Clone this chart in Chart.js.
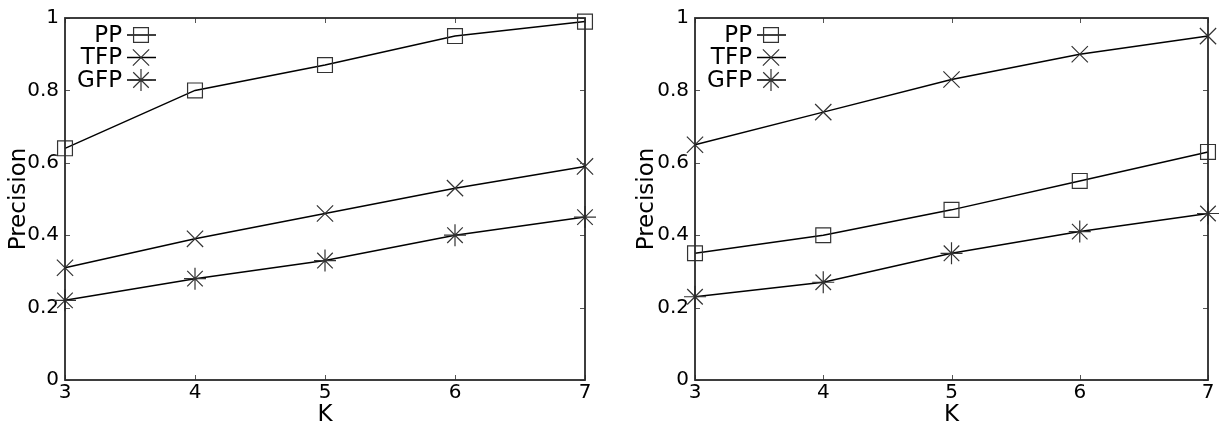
<!DOCTYPE html>
<html>
<head>
<meta charset="utf-8">
<script src="https://cdn.jsdelivr.net/npm/chart.js@4.4.1/dist/chart.umd.min.js"></script>
<style>
  html, body { margin: 0; padding: 0; background: #fff; }
  #wrap { position: relative; width: 1224px; height: 432px; }
  .c { position: absolute; top: 0; width: 612px; height: 432px; }
</style>
</head>
<body>
<div id="wrap">
  <div class="c" style="left:0"><canvas id="c1" width="612" height="432"></canvas></div>
  <div class="c" style="left:612px"><canvas id="c2" width="612" height="432"></canvas></div>
</div>
<script>
const kValues = ['3', '4', '5', '6', '7'];
const seriesNames = ['PP', 'TFP', 'GFP'];
const pointStyles = ['rect', 'crossRot', 'star'];
const yTicks = [0, 0.2, 0.4, 0.6, 0.8, 1];
const yTickLabels = ['0', '0.2', '0.4', '0.6', '0.8', '1'];

const leftPP  = [0.64, 0.80, 0.87, 0.95, 0.99];
const leftTFP = [0.31, 0.39, 0.46, 0.53, 0.59];
const leftGFP = [0.22, 0.28, 0.33, 0.40, 0.45];

const rightPP  = [0.35, 0.40, 0.47, 0.55, 0.63];
const rightTFP = [0.65, 0.74, 0.83, 0.90, 0.95];
const rightGFP = [0.23, 0.27, 0.35, 0.41, 0.46];

const FONT = "'DejaVu Sans', 'Bitstream Vera Sans', sans-serif";
const radii = [10.5, 11.5, 11];

const framePlugin = {
  id: 'frame',
  afterDatasetsDraw(chart) {
    const {ctx, chartArea: a, scales} = chart;
    ctx.save();
    // inward ticks
    ctx.strokeStyle = '#555';
    ctx.lineWidth = 1;
    const tl = 5;
    ctx.beginPath();
    scales.x.ticks.forEach((t, i) => {
      const px = Math.round(scales.x.getPixelForTick(i)) + 0.5;
      ctx.moveTo(px, a.bottom); ctx.lineTo(px, a.bottom - tl);
      ctx.moveTo(px, a.top); ctx.lineTo(px, a.top + tl);
    });
    scales.y.ticks.forEach(t => {
      const py = Math.round(scales.y.getPixelForValue(t.value)) + 0.5;
      ctx.moveTo(a.left, py); ctx.lineTo(a.left + tl, py);
      ctx.moveTo(a.right, py); ctx.lineTo(a.right - tl, py);
    });
    ctx.stroke();
    // box
    ctx.strokeStyle = '#2a2a2a';
    ctx.lineWidth = 1.8;
    ctx.strokeRect(a.left, a.top, a.right - a.left, a.bottom - a.top);
    // legend
    ctx.font = '23px ' + FONT;
    ctx.textAlign = 'right';
    ctx.textBaseline = 'middle';
    chart.data.datasets.forEach((ds, i) => {
      const y = a.top + 17 + i * 22.5;
      ctx.fillStyle = '#000';
      ctx.fillText(ds.label, a.left + 57, y + 1);
      ctx.strokeStyle = '#000';
      ctx.lineWidth = 1.5;
      ctx.beginPath();
      ctx.moveTo(a.left + 62, y); ctx.lineTo(a.left + 91, y);
      ctx.stroke();
      ctx.strokeStyle = ds.pointBorderColor;
      ctx.fillStyle = 'rgba(0,0,0,0)';
      ctx.lineWidth = ds.pointBorderWidth;
      Chart.helpers.drawPoint(ctx, {pointStyle: ds.pointStyle, radius: ds.pointRadius, rotation: 0, borderWidth: ds.pointBorderWidth}, a.left + 76, y);
    });
    ctx.restore();
  }
};

function makeChart(id, pp, tfp, gfp, pad, yWidth) {
  const vals = [pp, tfp, gfp];
  return new Chart(document.getElementById(id), {
    type: 'line',
    data: {
      labels: kValues,
      datasets: seriesNames.map((n, i) => ({
        label: n,
        data: vals[i],
        borderColor: '#000',
        borderWidth: 1.5,
        tension: 0,
        fill: false,
        clip: false,
        pointStyle: pointStyles[i],
        pointRadius: radii[i],
        pointHoverRadius: radii[i],
        pointBorderColor: '#333',
        pointBackgroundColor: 'rgba(0,0,0,0)',
        pointBorderWidth: 1.2
      }))
    },
    options: {
      responsive: false,
      animation: false,
      devicePixelRatio: 1,
      events: [],
      layout: { padding: pad },
      plugins: { legend: { display: false }, tooltip: { enabled: false } },
      scales: {
        x: {
          type: 'category',
          offset: false,
          grid: { display: false, drawTicks: false },
          border: { display: false },
          ticks: { color: '#000', font: { family: FONT, size: 20 }, padding: 1, maxRotation: 0, autoSkip: false },
          title: { display: true, text: 'K', color: '#000', font: { family: FONT, size: 23 }, padding: { top: 0, bottom: 3 } },
          afterFit(s) { s.height = 52; }
        },
        y: {
          type: 'linear',
          min: 0, max: 1,
          afterBuildTicks(s) { s.ticks = yTicks.map(v => ({ value: v })); },
          grid: { display: false, drawTicks: false },
          border: { display: false },
          ticks: {
            color: '#000', font: { family: FONT, size: 20 }, padding: 6,
            callback(v) { const i = yTicks.indexOf(v); return i >= 0 ? yTickLabels[i] : ''; }
          },
          title: { display: true, text: 'Precision', color: '#000', font: { family: FONT, size: 23 }, padding: { top: 5, bottom: 0 } },
          afterFit(s) { s.width = yWidth; }
        }
      }
    },
    plugins: [framePlugin]
  });
}

makeChart('c1', leftPP, leftTFP, leftGFP, { top: 16, right: 27, left: 0, bottom: 0 }, 65);
makeChart('c2', rightPP, rightTFP, rightGFP, { top: 16, right: 16, left: 16, bottom: 0 }, 67);
</script>
</body>
</html>
